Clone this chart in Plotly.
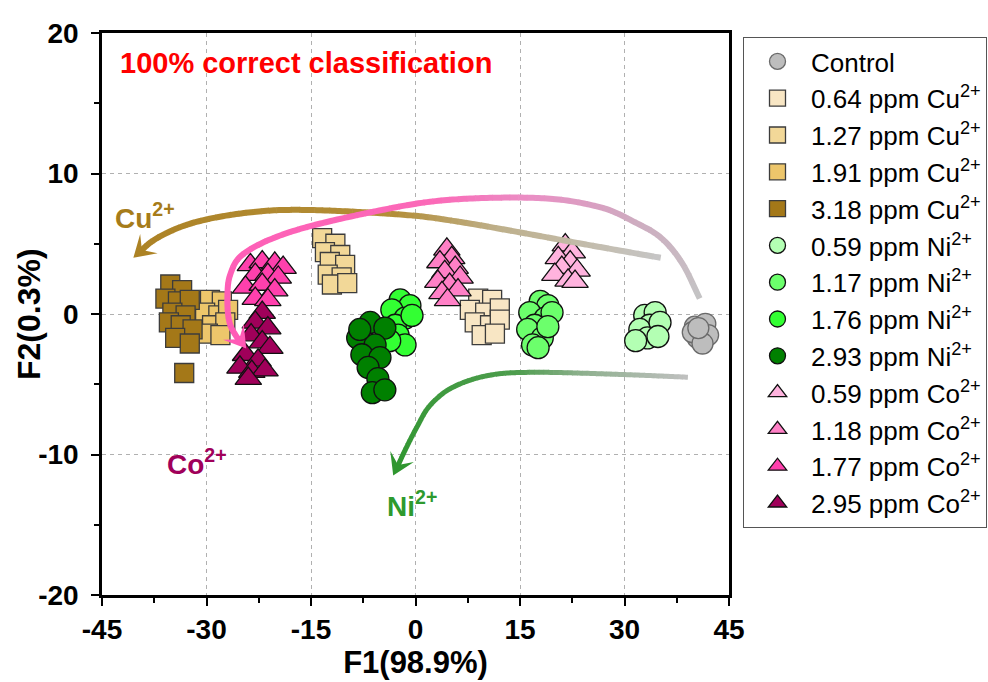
import numpy as np
import plotly.graph_objects as go

# ---------------- discriminant scores (F1, F2) per sample group ----------------
ctrl_f1 = [40.1, 40.9, 41.6, 40.5, 42.0, 39.8, 41.2, 40.6]
ctrl_f2 = [-0.9, -1.2, -0.7, -1.7, -1.5, -1.3, -2.1, -1.0]

cu064_f1 = [9.0, 11.0, 7.8, 10.0, 12.1, 8.5, 10.7, 12.1, 9.5, 11.4]
cu064_f2 = [1.1, 1.0, 0.3, 0.1, 0.4, -0.6, -0.8, -0.4, -1.5, -1.4]
cu127_f1 = [-13.4, -11.5, -13.0, -10.8, -12.3, -10.1, -12.6, -10.6, -12.0, -9.8]
cu127_f2 = [5.4, 5.0, 4.4, 4.2, 3.7, 3.5, 2.8, 2.6, 2.1, 2.2]
cu191_f1 = [-29.5, -27.8, -30.2, -28.3, -26.9, -29.2, -27.3, -29.8, -28.0]
cu191_f2 = [1.0, 0.9, 0.1, -0.1, 0.3, -0.8, -0.6, -1.4, -1.5]
cu318_f1 = [-35.2, -33.5, -35.9, -34.1, -32.4, -34.9, -33.0, -35.4, -33.7, -32.0, -34.5, -32.4, -33.2]
cu318_f2 = [2.1, 1.7, 1.1, 0.9, 1.0, 0.1, -0.1, -0.6, -0.8, -1.1, -1.7, -2.1, -4.2]

ni059_f1 = [32.9, 34.4, 33.6, 32.2, 35.1, 33.3, 31.6, 34.8]
ni059_f2 = [-0.1, 0.1, -0.8, -1.1, -0.6, -1.7, -1.9, -1.6]
ni117_f1 = [17.9, 19.0, 16.4, 18.6, 17.1, 19.6, 16.1, 18.2, 16.8, 19.0, 17.6]
ni117_f2 = [0.9, 0.6, 0.1, -0.3, -0.8, 0.1, -1.1, -1.7, -2.2, -0.9, -2.4]
ni176_f1 = [-2.2, -0.8, -3.4, -1.5, -2.9, -0.5, -2.5, -1.5, -3.7]
ni176_f2 = [1.0, 0.6, 0.3, -0.3, -0.8, -0.1, -1.5, -2.2, -1.9]
ni293_f1 = [-6.5, -4.4, -8.3, -5.8, -7.7, -5.1, -6.8, -5.4, -6.2, -4.4, -8.0]
ni293_f2 = [-0.6, -1.0, -1.7, -2.2, -2.9, -3.1, -3.8, -4.6, -5.6, -5.4, -1.1]

co059_f1 = [21.5, 22.5, 20.5, 22.2, 21.0, 23.2, 20.0, 21.9, 22.9]
co059_f2 = [4.9, 4.4, 4.0, 3.7, 3.3, 3.1, 2.8, 2.4, 2.3]
co118_f1 = [4.5, 5.2, 3.5, 5.7, 4.2, 6.4, 3.2, 4.9, 3.8, 6.1, 4.6]
co118_f2 = [4.6, 4.0, 3.7, 3.3, 3.0, 2.6, 2.3, 2.1, 1.5, 1.7, 1.0]
co177_f1 = [-23.7, -22.0, -20.2, -19.0, -23.0, -21.2, -19.7, -24.4, -22.0, -20.2, -23.0, -21.2]
co177_f2 = [3.5, 3.7, 3.6, 3.3, 2.8, 2.8, 2.6, 1.9, 2.1, 1.7, 1.1, 1.0]
co295_f1 = [-22.0, -23.0, -21.2, -23.6, -22.0, -20.9, -24.4, -22.6, -25.2, -23.5, -21.6, -24.0]
co295_f2 = [0.1, -0.6, -1.0, -1.5, -2.0, -2.4, -2.9, -3.3, -3.8, -4.1, -4.0, -4.6]

group_labels = [
    "Control",
    "0.64 ppm Cu<sup>2+</sup>", "1.27 ppm Cu<sup>2+</sup>",
    "1.91 ppm Cu<sup>2+</sup>", "3.18 ppm Cu<sup>2+</sup>",
    "0.59 ppm Ni<sup>2+</sup>", "1.17 ppm Ni<sup>2+</sup>",
    "1.76 ppm Ni<sup>2+</sup>", "2.93 ppm Ni<sup>2+</sup>",
    "0.59 ppm Co<sup>2+</sup>", "1.18 ppm Co<sup>2+</sup>",
    "1.77 ppm Co<sup>2+</sup>", "2.95 ppm Co<sup>2+</sup>",
]

f1_ticks = [-45, -30, -15, 0, 15, 30, 45]
f2_ticks = [-20, -10, 0, 10, 20]

# ---------------- styling ----------------
FONT = "Liberation Sans, Arial, sans-serif"
W, H = 988, 682
M_L, M_R, M_T, M_B = 102, 259, 33, 87
X_RANGE = [-45, 45]
Y_RANGE = [-20, 20]
PLOT_W = W - M_L - M_R
PLOT_H = H - M_T - M_B
SX = PLOT_W / (X_RANGE[1] - X_RANGE[0])   # px per F1 unit
SY = PLOT_H / (Y_RANGE[1] - Y_RANGE[0])   # px per F2 unit

series = [
    (ctrl_f1, ctrl_f2, "circle", "#bdbdbd", "#6a6a6a", 21),
    (cu064_f1, cu064_f2, "square", "#f8e6c4", "#3c3c3c", 19),
    (cu127_f1, cu127_f2, "square", "#f2d898", "#3c3c3c", 19),
    (cu191_f1, cu191_f2, "square", "#edc66b", "#3c3c3c", 19),
    (cu318_f1, cu318_f2, "square", "#a47818", "#3c3c3c", 19),
    (ni059_f1, ni059_f2, "circle", "#b3ffb3", "#111111", 22),
    (ni117_f1, ni117_f2, "circle", "#6cff6c", "#111111", 22),
    (ni176_f1, ni176_f2, "circle", "#33ff33", "#111111", 22),
    (ni293_f1, ni293_f2, "circle", "#008000", "#111111", 22),
    (co059_f1, co059_f2, "triangle-up", "#ffb3de", "#111111", 23),
    (co118_f1, co118_f2, "triangle-up", "#ff80c6", "#111111", 23),
    (co177_f1, co177_f2, "triangle-up", "#ff40ad", "#111111", 23),
    (co295_f1, co295_f2, "triangle-up", "#a0005a", "#111111", 23),
]

fig = go.Figure()
for i, ((fx, fy, sym, fill, edge, size), name) in enumerate(zip(series, group_labels)):
    fig.add_trace(go.Scatter(
        x=fx, y=fy, mode="markers", name=name, legendgroup=f"g{i}",
        marker=dict(symbol=sym, size=size, color=fill,
                    line=dict(color=edge, width=1.3)),
    ))


# ---------------- curved gradient arrows ----------------
def catmull_rom(pts, n_per=14):
    P = np.asarray(pts, float)
    P = np.vstack([2 * P[0] - P[1], P, 2 * P[-1] - P[-2]])
    out = []
    for i in range(1, len(P) - 2):
        p0, p1, p2, p3 = P[i - 1], P[i], P[i + 1], P[i + 2]
        for t in np.linspace(0, 1, n_per, endpoint=False):
            t2, t3 = t * t, t * t * t
            out.append(0.5 * (2 * p1 + (-p0 + p2) * t
                              + (2 * p0 - 5 * p1 + 4 * p2 - p3) * t2
                              + (-p0 + 3 * p1 - 3 * p2 + p3) * t3))
    out.append(P[-2])
    return np.array(out)


def hex_rgb(h):
    h = h.lstrip("#")
    return np.array([int(h[k:k + 2], 16) for k in (0, 2, 4)], float)


def grad_color(stops, s):
    for (s0, c0), (s1, c1) in zip(stops[:-1], stops[1:]):
        if s <= s1:
            f = 0 if s1 == s0 else (s - s0) / (s1 - s0)
            c = hex_rgb(c0) * (1 - f) + hex_rgb(c1) * f
            return "rgb(%d,%d,%d)" % tuple(np.round(c))
    c = hex_rgb(stops[-1][1])
    return "rgb(%d,%d,%d)" % tuple(np.round(c))


def add_arrow(fig, way, stops, width=6, head_len=21, head_half=13, nseg=70):
    curve = catmull_rom(way)
    px = np.column_stack([curve[:, 0] * SX, curve[:, 1] * SY])
    seg = np.hypot(*np.diff(px, axis=0).T)
    s = np.concatenate([[0], np.cumsum(seg)])
    total = s[-1]
    tip = px[-1]
    # direction of the head from the curve near the tip
    back = np.array([np.interp(total - head_len, s, px[:, 0]),
                     np.interp(total - head_len, s, px[:, 1])])
    d = (tip - back) / np.linalg.norm(tip - back)
    n = np.array([-d[1], d[0]])
    shaft_end = total - 0.5 * head_len
    edges = np.linspace(0, shaft_end, nseg + 1)
    for a, b in zip(edges[:-1], edges[1:]):
        ss = np.linspace(a, min(b + 0.6, shaft_end), 4)
        xs = np.interp(ss, s, px[:, 0]) / SX
        ys = np.interp(ss, s, px[:, 1]) / SY
        path = "M " + " L ".join(f"{x:.4f},{y:.4f}" for x, y in zip(xs, ys))
        fig.add_shape(type="path", path=path, xref="x", yref="y",
                      line=dict(color=grad_color(stops, (a + b) / 2 / total), width=width))
    head = [tip, tip - head_len * d + head_half * n, tip - 0.55 * head_len * d,
            tip - head_len * d - head_half * n]
    path = "M " + " L ".join(f"{p[0] / SX:.4f},{p[1] / SY:.4f}" for p in head) + " Z"
    fig.add_shape(type="path", path=path, xref="x", yref="y",
                  fillcolor=grad_color(stops, 1.0), line=dict(width=0))


cu_way = [(35.2, 4.0), (25.0, 4.9), (15.1, 5.8), (6.4, 6.55), (-1.4, 7.05), (-15.0, 7.4),
          (-23.3, 7.26), (-31.5, 6.55), (-37.1, 5.4), (-40.5, 4.0)]
co_way = [(40.8, 1.1), (38.3, 3.6), (35.3, 5.4), (31.6, 6.5), (26.5, 7.6), (17.9, 8.25),
          (4.2, 8.1), (-6.8, 7.2), (-17.9, 5.85), (-24.5, 4.35), (-26.6, 2.8), (-27.0, 1.0),
          (-26.7, -0.6), (-25.7, -1.6), (-24.3, -2.45)]
ni_way = [(39.1, -4.5), (29.3, -4.3), (17.4, -4.15), (10.7, -4.35), (5.4, -5.2), (2.1, -6.5),
          (0.2, -8.05), (-1.5, -9.7), (-2.8, -11.1), (-3.2, -11.5)]

add_arrow(fig, cu_way, [(0, "#c6c6c6"), (0.3, "#beb08c"), (0.5, "#b38e38"), (1, "#ac8224")])
add_arrow(fig, co_way, [(0, "#c4c4c4"), (0.18, "#cfaac0"), (0.35, "#ea8ec4"),
                        (0.5, "#fb6ab8"), (1, "#ff5ab6")])
add_arrow(fig, ni_way, [(0, "#c0c0c0"), (0.3, "#8fb08f"), (0.5, "#4d9d4d"), (1, "#2f962f")],
          width=5)

# ---------------- text labels ----------------
fig.add_annotation(x=-42.7, y=17.9, xref="x", yref="y", xanchor="left", yanchor="middle",
                   text="100% correct classification", showarrow=False,
                   font=dict(family=FONT, size=29, color="#ff0000", weight="bold"))
fig.add_annotation(x=-38.9, y=7.0, xref="x", yref="y", text="Cu<sup>2+</sup>", showarrow=False,
                   font=dict(family=FONT, size=28, color="#a67c1a", weight="bold"))
fig.add_annotation(x=-31.3, y=-10.5, xref="x", yref="y", text="Co<sup>2+</sup>", showarrow=False,
                   font=dict(family=FONT, size=28, color="#a0005a", weight="bold"))
fig.add_annotation(x=-0.5, y=-13.5, xref="x", yref="y", text="Ni<sup>2+</sup>", showarrow=False,
                   font=dict(family=FONT, size=28, color="#2e9a2e", weight="bold"))
# vertical axis title, placed beside the tick labels
fig.add_annotation(x=(29 - M_L) / PLOT_W, y=0.5, xref="paper", yref="paper",
                   xanchor="center", yanchor="middle", textangle=-90,
                   text="F2(0.3%)", showarrow=False,
                   font=dict(family=FONT, size=32, color="black", weight="bold"))

axis_common = dict(
    showline=True, linecolor="black", linewidth=2.5, mirror=True,
    ticks="outside", ticklen=8, tickwidth=2, tickcolor="black",
    showgrid=True, gridcolor="#b0b0b0", gridwidth=1, griddash="4px,4px",
    zeroline=False, tickmode="array",
    tickfont=dict(family=FONT, size=28, color="black", weight="bold"),
)

fig.update_xaxes(
    range=X_RANGE, tickvals=f1_ticks, ticktext=[str(v) for v in f1_ticks],
    minor=dict(tickmode="linear", tick0=-45, dtick=7.5, ticks="outside", ticklen=5,
               tickwidth=2, tickcolor="black", showgrid=False),
    title=dict(text="F1(98.9%)", standoff=4,
               font=dict(family=FONT, size=31, color="black", weight="bold")),
    **axis_common,
)
fig.update_yaxes(
    range=Y_RANGE, tickvals=f2_ticks, ticktext=[str(v) for v in f2_ticks],
    ticklabelstandoff=7,
    minor=dict(tickmode="linear", tick0=-20, dtick=5, ticks="outside", ticklen=5,
               tickwidth=2, tickcolor="black", showgrid=False),
    **axis_common,
)

fig.update_layout(
    width=W, height=H,
    margin=dict(l=M_L, r=M_R, t=M_T, b=M_B, autoexpand=False),
    paper_bgcolor="white", plot_bgcolor="white",
    showlegend=True,
    legend=dict(
        x=(743 - M_L) / PLOT_W, y=(H - M_B - 37) / PLOT_H, xanchor="left", yanchor="top",
        bordercolor="#555555", borderwidth=1, bgcolor="white",
        font=dict(family=FONT, size=26, color="black"),
        tracegroupgap=0, itemwidth=57, itemsizing="trace",
    ),
)

fig.write_html("out.html")
